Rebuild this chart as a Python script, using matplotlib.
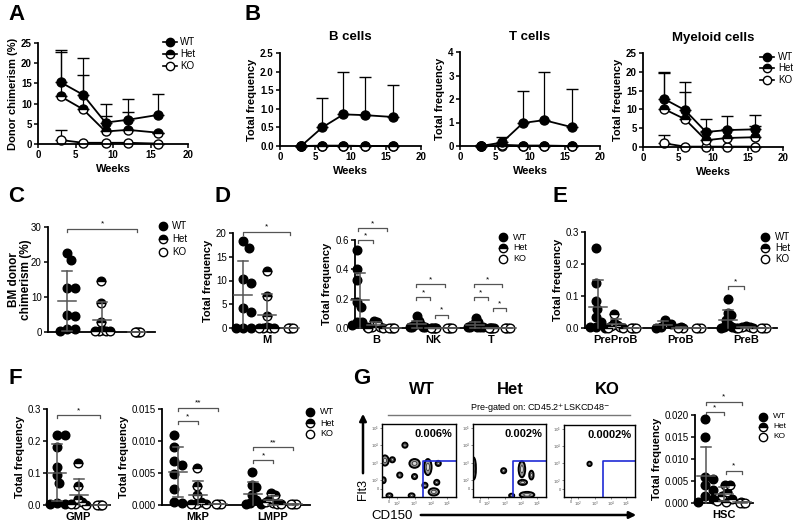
import numpy as np
import matplotlib.pyplot as plt
from matplotlib.lines import Line2D
from matplotlib.patches import Ellipse, FancyArrowPatch

plt.rcParams['font.family'] = ['Liberation Sans', 'DejaVu Sans']

# ---- values ----
weeks = [3, 6, 9, 12, 16]

# A donor chimerism: mean and upper SD
a_wt = [15.3, 12.2, 5.3, 6.0, 7.2]
a_wt_sd = [8.0, 9.1, 4.5, 5.2, 5.1]
a_het = [11.8, 8.6, 3.1, 3.5, 2.8]
a_het_sd = [11.0, 8.5, 3.9, 4.3, 0.0]
a_ko = [1.0, 0.3, 0.3, 0.3, 0.1]
a_ko_sd = [2.4, 0.0, 0.0, 0.0, 0.0]

# B lineages
bc_wt = [0.0, 0.5, 0.85, 0.83, 0.78]
bc_wt_sd = [0.0, 0.78, 1.13, 1.02, 0.85]
bc_het = [0.0, 0.01, 0.01, 0.0, 0.0]
bc_ko = [0.0, 0.0, 0.0, 0.0, 0.0]
tc_wt = [0.0, 0.15, 0.98, 1.1, 0.8]
tc_wt_sd = [0.05, 0.23, 1.34, 2.05, 1.63]
tc_het = [0.0, 0.05, 0.02, 0.02, 0.0]
tc_ko = [0.0, 0.0, 0.0, 0.0, 0.0]
my_wt = [12.8, 9.8, 4.0, 4.5, 4.7]
my_wt_sd = [7.2, 7.5, 3.4, 3.7, 3.8]
my_het = [10.1, 7.4, 1.8, 2.4, 2.6]
my_het_sd = [9.5, 7.2, 2.5, 2.5, 3.0]
my_ko = [1.0, 0.1, 0.1, 0.1, 0.1]
my_ko_sd = [2.3, 0.0, 0.0, 0.0, 0.0]

# C BM donor chimerism
c_wt = [22.5, 20.5, 12.5, 12.5, 5.0, 4.6, 0.8, 0.8, 0.3]
c_het = [14.5, 8.3, 2.8, 0.6, 0.4, 0.3, 0.3, 0.2]
c_ko = [0.1, 0.1, 0.1, 0.1, 0.1]

# D
d_m_wt = [18.3, 16.9, 10.3, 9.5, 4.2, 3.4, 0.1, 0.1, 0.1]
d_m_het = [12.0, 6.8, 2.6, 0.2, 0.1, 0.1, 0.1, 0.1]
d_m_ko = [0.1, 0.1, 0.1, 0.1]
d_b_wt = [0.53, 0.40, 0.33, 0.18, 0.14, 0.04, 0.04, 0.02, 0.01]
d_b_het = [0.05, 0.04, 0.01, 0.005, 0.002, 0.001]
d_b_ko = [0.001, 0.001, 0.001, 0.001]
d_nk_wt = [0.08, 0.045, 0.03, 0.02, 0.02, 0.01, 0.01, 0.01, 0.005]
d_nk_het = [0.002, 0.002, 0.002, 0.002, 0.002]
d_nk_ko = [0.001, 0.001, 0.001, 0.001]
d_t_wt = [0.07, 0.04, 0.03, 0.02, 0.01, 0.01, 0.01, 0.005, 0.005]
d_t_het = [0.003, 0.003, 0.003, 0.003, 0.003]
d_t_ko = [0.001, 0.001, 0.001, 0.001]

# E
e_ppb_wt = [0.25, 0.14, 0.085, 0.06, 0.035, 0.02, 0.004, 0.002, 0.001]
e_ppb_het = [0.045, 0.015, 0.01, 0.005, 0.002, 0.001, 0.001]
e_ppb_ko = [0.0005, 0.0005, 0.0005, 0.0005]
e_pb_wt = [0.025, 0.012, 0.004, 0.001]
e_pb_het = [0.002, 0.001, 0.001]
e_pb_ko = [0.0005, 0.0005, 0.0005]
e_preb_wt = [0.09, 0.048, 0.04, 0.025, 0.008, 0.004, 0.002, 0.001, 0.001]
e_preb_het = [0.006, 0.003, 0.002, 0.001, 0.001]
e_preb_ko = [0.0005, 0.0005, 0.0005]

# F
f_gmp_wt = [0.22, 0.22, 0.18, 0.12, 0.093, 0.068, 0.005, 0.003, 0.002]
f_gmp_het = [0.13, 0.06, 0.02, 0.008, 0.004, 0.002, 0.001]
f_gmp_ko = [0.001, 0.001, 0.001, 0.001]
f_mkp_wt = [0.011, 0.009, 0.0068, 0.0062, 0.0048, 0.0025, 0.0005, 0.0003]
f_mkp_het = [0.0058, 0.003, 0.0015, 0.0005, 0.0002, 0.0001, 0.0001]
f_mkp_ko = [0.0001, 0.0001, 0.0001]
f_lmpp_wt = [0.0052, 0.0032, 0.0028, 0.0015, 0.0008, 0.0003, 0.0001, 0.0001]
f_lmpp_het = [0.0019, 0.0015, 0.0008, 0.0005, 0.0003, 0.0002, 0.0001]
f_lmpp_ko = [0.0002, 0.0001, 0.0001]

# G
g_hsc_wt = [0.019, 0.015, 0.006, 0.0055, 0.004, 0.003, 0.0015, 0.0008, 0.0002]
g_hsc_het = [0.0042, 0.0042, 0.0025, 0.0015, 0.001, 0.0005, 0.0002]
g_hsc_ko = [0.0002, 0.0001, 0.0001, 0.0001]

# FACS contour blobs (x, y, w, h) in gate-plot fractions
facs_wt = [(0.31, 0.71, 0.07, 0.07), (0.04, 0.50, 0.10, 0.14), (0.14, 0.51, 0.07, 0.07),
           (0.24, 0.30, 0.07, 0.07), (0.02, 0.23, 0.06, 0.08), (0.44, 0.46, 0.14, 0.12),
           (0.62, 0.41, 0.10, 0.22), (0.76, 0.46, 0.07, 0.07), (0.44, 0.28, 0.07, 0.07),
           (0.58, 0.16, 0.07, 0.07), (0.74, 0.20, 0.07, 0.07), (0.70, 0.07, 0.14, 0.10),
           (0.40, 0.02, 0.08, 0.06), (0.10, 0.02, 0.08, 0.06)]
facs_het = [(0.01, 0.39, 0.06, 0.30), (0.42, 0.36, 0.07, 0.07), (0.67, 0.38, 0.09, 0.22),
            (0.80, 0.30, 0.06, 0.12), (0.68, 0.20, 0.12, 0.07), (0.74, 0.03, 0.20, 0.08),
            (0.53, 0.02, 0.07, 0.05)]
facs_ko = [(0.36, 0.46, 0.06, 0.06)]
facs_pct = ['0.006%', '0.002%', '0.0002%']
facs_gate = [(0.55, 0.50), (0.55, 0.50), (0.55, 0.50)]

W, H = 800, 526
fig = plt.figure(figsize=(8, 5.26), dpi=100)
GRAY = '#555555'

sty = {
    'wt': dict(marker='o', markerfacecolor='black', markeredgecolor='black'),
    'het': dict(marker='o', fillstyle='top', markerfacecolor='black',
                markerfacecoloralt='white', markeredgecolor='black'),
    'ko': dict(marker='o', markerfacecolor='white', markeredgecolor='black'),
}


def pax(l, t, r, b):
    return fig.add_axes([l / W, 1 - b / H, (r - l) / W, (b - t) / H])


def fx(x):
    return x / W


def fy(y):
    return 1 - y / H


def base_style(ax, bold=False):
    for s in ['top', 'right']:
        ax.spines[s].set_visible(False)
    for s in ['left', 'bottom']:
        ax.spines[s].set_linewidth(1.3)
    ax.tick_params(direction='out', length=3, width=1.1, labelsize=7, pad=1.5)
    if bold:
        for t in ax.get_xticklabels() + ax.get_yticklabels():
            t.set_fontweight('bold')


def legend_at(xm, xt, ys, fs=7, line=False, ms=6):
    for kind, lab, y in zip(['wt', 'het', 'ko'], ['WT', 'Het', 'KO'], ys):
        if line:
            fig.add_artist(Line2D([fx(xm - 7), fx(xm + 7)], [fy(y), fy(y)], color='black',
                                  lw=1.2, transform=fig.transFigure))
        fig.add_artist(Line2D([fx(xm)], [fy(y)], ls='none', ms=ms, mew=1,
                              transform=fig.transFigure, **sty[kind]))
        fig.text(fx(xt), fy(y), lab, fontsize=fs, va='center', ha='left')


def line_panel(l, t, r, b, ymax, yticks, series, title=None, ylabel='Total frequency'):
    ax = pax(l, t, r, b)
    ax.set_xlim(0, 20)
    ax.set_ylim(0, ymax)
    ax.set_xticks([0, 5, 10, 15, 20])
    ax.set_yticks(yticks)
    for vals, sd, kind in series:
        cont = ax.errorbar(weeks, vals, yerr=[np.zeros(len(sd)), sd], color='black', lw=1.3,
                           ms=6.5, mew=1, capsize=4, elinewidth=0.9, capthick=0.9, **sty[kind])
        cont.lines[0].set_clip_on(False)
        for a in list(cont.lines[1]) + list(cont.lines[2]):
            a.set_clip_on(False)
    base_style(ax, bold=True)
    ax.set_xlabel('Weeks', fontsize=8, fontweight='bold', labelpad=3)
    ax.set_ylabel(ylabel, fontsize=8, fontweight='bold', labelpad=2)
    if title:
        ax.set_title(title, fontsize=9.5, fontweight='bold', pad=9)
    return ax


def scat_ax(l, t, r, b, xlim, ylim, yticks, ylabel='Total frequency'):
    ax = pax(l, t, r, b)
    ax.set_xlim(xlim)
    ax.set_ylim(ylim)
    ax.set_yticks(yticks)
    ax.xppu = (r - l) / (xlim[1] - xlim[0])
    ax.yppu = (b - t) / (ylim[1] - ylim[0])
    base_style(ax)
    ax.tick_params(axis='x', length=0, pad=5, labelsize=8)
    if ylabel:
        ax.set_ylabel(ylabel, fontsize=8, fontweight='bold', labelpad=2)
    return ax


def swarm(vals, yppu, d=8.5, max_span=15.0):
    vals = np.asarray(vals, float)
    # identical values pile up almost on top of each other, as in the reference
    if np.ptp(vals) * yppu < 1.0:
        max_span = 5.0
    order = np.argsort(-vals, kind='stable')
    cands = [0.0]
    for k in range(1, 60):
        cands += [k * d / 4, -k * d / 4]
    placed = []
    offs = np.zeros(len(vals))
    for i in order:
        y = vals[i] * yppu
        for c in cands:
            if all((c - px) ** 2 + (y - py) ** 2 >= (d * 0.95) ** 2 for px, py in placed):
                break
        placed.append((c, y))
        offs[i] = c
    offs = offs - (offs.max() + offs.min()) / 2
    span = offs.max() - offs.min()
    if span > max_span:
        offs = offs * max_span / span
    return offs


def column(ax, x, vals, kind):
    offs = swarm(vals, ax.yppu)
    ax.plot(x + offs / ax.xppu, vals, ls='none', ms=6.2, mew=1, clip_on=False, zorder=3, **sty[kind])
    m = np.mean(vals)
    s = np.std(vals, ddof=1)
    hw, cw = 9 / ax.xppu, 5 / ax.xppu
    kw = dict(color=GRAY, lw=1.1, clip_on=False, zorder=4)
    ax.plot([x - hw, x + hw], [m, m], **kw)
    ax.plot([x, x], [max(m - s, 0), m + s], **kw)
    ax.plot([x - cw, x + cw], [m + s, m + s], **kw)
    if m - s > 0:
        ax.plot([x - cw, x + cw], [m - s, m - s], **kw)


def groups(ax, bases, data):
    for base, (wt, het, ko) in zip(bases, data):
        column(ax, base, wt, 'wt')
        column(ax, base + 1, het, 'het')
        column(ax, base + 2, ko, 'ko')


def bracket(ax, x1, x2, y, txt='*'):
    dr = 3 / ax.yppu
    ax.plot([x1, x1, x2, x2], [y - dr, y, y, y - dr], color=GRAY, lw=0.9, clip_on=False)
    ax.text((x1 + x2) / 2, y + 1 / ax.yppu, txt, ha='center', va='bottom', fontsize=6)


def cat_labels(ax, pos, labels):
    ax.set_xticks(pos)
    ax.set_xticklabels(labels, fontweight='bold', fontsize=8)


# panel letters
for lab, x, y in [('A', 8, 4), ('B', 244, 4), ('C', 8, 186), ('D', 215, 186),
                  ('E', 553, 186), ('F', 8, 368), ('G', 353, 368)]:
    fig.text(fx(x), fy(y), lab, fontsize=16, fontweight='bold', va='top', ha='left')

# ---- A ----
line_panel(38, 43, 188, 144, 25, [0, 5, 10, 15, 20, 25],
           [(a_ko, a_ko_sd, 'ko'), (a_het, a_het_sd, 'het'), (a_wt, a_wt_sd, 'wt')],
           ylabel='Donor chimerism (%)')
legend_at(170, 180, [42, 54, 66], fs=7, line=True)

# ---- B ----
line_panel(280, 53, 421, 146, 2.5, [0.0, 0.5, 1.0, 1.5, 2.0, 2.5],
           [(bc_ko, [0] * 5, 'ko'), (bc_het, [0] * 5, 'het'), (bc_wt, bc_wt_sd, 'wt')],
           title='B cells')
line_panel(460, 52, 600, 146, 4, [0, 1, 2, 3, 4],
           [(tc_ko, [0] * 5, 'ko'), (tc_het, [0] * 5, 'het'), (tc_wt, tc_wt_sd, 'wt')],
           title='T cells')
line_panel(643, 53, 783, 147, 25, [0, 5, 10, 15, 20, 25],
           [(my_ko, my_ko_sd, 'ko'), (my_het, my_het_sd, 'het'), (my_wt, my_wt_sd, 'wt')],
           title='Myeloid cells')
legend_at(767, 778, [57, 68, 80], fs=7, line=True)

# ---- C ----
axC = scat_ax(48, 227, 155, 332, (-0.55, 2.5), (0, 30), [0, 10, 20, 30], ylabel=None)
axC.set_xticks([])
groups(axC, [0], [(c_wt, c_het, c_ko)])
bracket(axC, 0, 2, 29.5)
fig.text(fx(20), fy(280), 'BM donor\nchimerism (%)', rotation=90, fontsize=8.5,
         fontweight='bold', ha='center', va='center', linespacing=1.0)
legend_at(163, 172, [226, 239, 252], fs=7)

# ---- D ----
axDm = scat_ax(233, 233, 295, 328, (-0.43, 2.2), (0, 20), [0, 5, 10, 15, 20])
cat_labels(axDm, [1], ['M'])
groups(axDm, [0], [(d_m_wt, d_m_het, d_m_ko)])
bracket(axDm, 0, 2, 20.3)

axDl = scat_ax(355, 240, 512, 328, (-0.3, 9.5), (0, 0.6), [0.0, 0.2, 0.4, 0.6])
cat_labels(axDl, [1, 4.6, 8.2], ['B', 'NK', 'T'])
groups(axDl, [0, 3.6, 7.2], [(d_b_wt, d_b_het, d_b_ko), (d_nk_wt, d_nk_het, d_nk_ko),
                             (d_t_wt, d_t_het, d_t_ko)])
bracket(axDl, -0.1, 0.8, 0.6)
bracket(axDl, -0.1, 1.7, 0.68)
for b0, hk in [(3.6, 0.09), (7.2, 0.135)]:
    bracket(axDl, b0 - 0.1, b0 + 0.8, 0.21)
    bracket(axDl, b0 - 0.1, b0 + 1.7, 0.30)
    bracket(axDl, b0 + 1.1, b0 + 1.9, hk)
legend_at(503, 513, [237, 248, 259], fs=6.5)

# ---- E ----
axE = scat_ax(585, 232, 777, 328, (-0.74, 10.2), (0, 0.3), [0.0, 0.1, 0.2, 0.3])
cat_labels(axE, [1, 4.71, 8.42], ['PreProB', 'ProB', 'PreB'])
groups(axE, [0, 3.71, 7.42], [(e_ppb_wt, e_ppb_het, e_ppb_ko), (e_pb_wt, e_pb_het, e_pb_ko),
                              (e_preb_wt, e_preb_het, e_preb_ko)])
bracket(axE, 7.42, 8.3, 0.13)
legend_at(765, 775, [237, 248, 259], fs=7)

# ---- F ----
axF1 = scat_ax(47, 409, 110, 505, (-0.47, 2.47), (0, 0.3), [0.0, 0.1, 0.2, 0.3])
cat_labels(axF1, [1], ['GMP'])
groups(axF1, [0], [(f_gmp_wt, f_gmp_het, f_gmp_ko)])
bracket(axF1, 0, 2, 0.28)

axF2 = scat_ax(162, 409, 310, 505, (-0.8, 6.6), (0, 0.015), [0.0, 0.005, 0.010, 0.015])
axF2.set_yticklabels(['0.000', '0.005', '0.010', '0.015'])
cat_labels(axF2, [1, 4.75], ['MkP', 'LMPP'])
groups(axF2, [0, 3.75], [(f_mkp_wt, f_mkp_het, f_mkp_ko), (f_lmpp_wt, f_lmpp_het, f_lmpp_ko)])
bracket(axF2, 0, 1, 0.0131)
bracket(axF2, 0, 2, 0.0152, '**')
bracket(axF2, 3.75, 4.75, 0.0070)
bracket(axF2, 3.75, 5.75, 0.0090, '**')
legend_at(310, 320, [412, 423, 434], fs=6.5)

# ---- G: FACS ----
facs_boxes = [(382, 424, 456, 497), (473, 424, 546, 497), (564, 425, 635, 497)]
for (l, t, r, b), blobs, pct, (gx, gy) in zip(facs_boxes, [facs_wt, facs_het, facs_ko],
                                               facs_pct, facs_gate):
    ax = pax(l, t, r, b)
    ax.set_xlim(0, 1)
    ax.set_ylim(0, 1)
    for bx, by, bw, bh in blobs:
        ax.add_patch(Ellipse((bx, by), bw, bh, facecolor='#9a9a9a', edgecolor='black', lw=1.4))
        ax.add_patch(Ellipse((bx, by), bw * 0.45, bh * 0.45, facecolor='#d8d8d8',
                             edgecolor='#333333', lw=0.6))
    ax.plot([gx, gx, 1], [0, gy, gy], color='#1f2bd6', lw=1.2)
    ax.text(0.95, 0.86, pct, ha='right', va='center', fontsize=8, fontweight='bold')
    ax.set_xticks([0.1, 0.2, 0.44, 0.66, 0.88])
    ax.set_xticklabels(['0', r'$10^2$', r'$10^3$', r'$10^4$', r'$10^5$'])
    ax.set_yticks([0.11, 0.23, 0.47, 0.71, 0.94])
    ax.set_yticklabels(['0', r'$10^2$', r'$10^3$', r'$10^4$', r'$10^5$'])
    ax.tick_params(length=1.5, width=0.5, labelsize=2.8, pad=0.5, colors='#555555')
    for s in ax.spines.values():
        s.set_linewidth(1.0)

for lab, x in [('WT', 422), ('Het', 510), ('KO', 607)]:
    fig.text(fx(x), fy(390), lab, fontsize=12, fontweight='bold', ha='center', va='center')
fig.text(fx(540), fy(408), r'Pre-gated on: CD45.2$^{+}$LSKCD48$^{-}$', fontsize=6.5,
         ha='center', va='center')
fig.add_artist(Line2D([fx(388), fx(630)], [fy(415), fy(415)], color='#777777', lw=1,
                      transform=fig.transFigure))
fig.add_artist(FancyArrowPatch((fx(363), fy(476)), (fx(363), fy(411)), transform=fig.transFigure,
                               arrowstyle='-|>', mutation_scale=10, lw=1.8, color='black'))
fig.text(fx(363), fy(490), 'Flt3', rotation=90, fontsize=9, ha='center', va='center')
fig.add_artist(FancyArrowPatch((fx(418), fy(515)), (fx(639), fy(515)), transform=fig.transFigure,
                               arrowstyle='-|>', mutation_scale=10, lw=1.8, color='black'))
fig.text(fx(392), fy(516), 'CD150', fontsize=9.5, ha='center', va='center')

axG = scat_ax(695, 415, 753, 503, (-0.6, 2.6), (0, 0.020), [0.0, 0.005, 0.010, 0.015, 0.020])
axG.set_yticklabels(['0.000', '0.005', '0.010', '0.015', '0.020'])
cat_labels(axG, [1], ['HSC'])
groups(axG, [0], [(g_hsc_wt, g_hsc_het, g_hsc_ko)])
bracket(axG, 0, 1, 0.0207)
bracket(axG, 0, 2, 0.0230)
bracket(axG, 1.1, 2, 0.0073)
legend_at(763, 773, [417, 427, 437], fs=6)

fig.savefig('out.png', dpi=100)
